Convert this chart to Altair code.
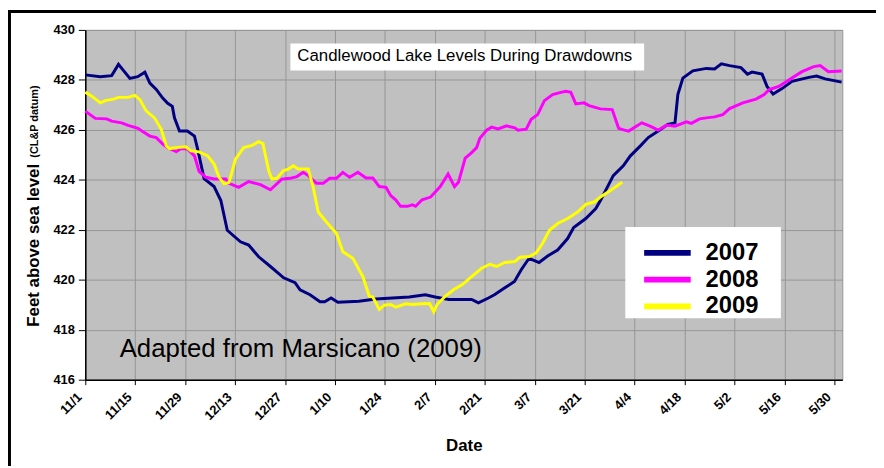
import altair as alt
import pandas as pd

FONT = "Liberation Sans"

tick_labels = ["11/1", "11/15", "11/29", "12/13", "12/27", "1/10", "1/24", "2/7",
               "2/21", "3/7", "3/21", "4/4", "4/18", "5/2", "5/16", "5/30"]
tick_days = [0, 14, 28, 42, 56, 70, 84, 98, 112, 126, 140, 154, 168, 182, 196, 210]
y_ticks = [416, 418, 420, 422, 424, 426, 428, 430]

years = ["2007", "2008", "2009"]
colors = ["#000080", "#FF00FF", "#FFFF00"]

day_2007 = [0, 4.2, 7.4, 9.3, 12.5, 14.7, 16.7, 18.1, 19.9, 21.7, 23.1, 24.4, 25.0, 26.4,
            28.6, 30.6, 31.4, 32.4, 33.3, 36.1, 38.0, 39.8, 43.5, 45.8, 48.6, 51.9, 55.6,
            58.8, 60.2, 63.0, 65.8, 67.1, 68.9, 70.8, 76.7, 81.4, 86.1, 90.8, 95.3, 98.1,
            101.9, 108.3, 110.2, 113.0, 114.7, 117.5, 120.3, 122.2, 124.4, 127.2, 129.6,
            132.4, 135.2, 136.9, 140.3, 143.1, 144.4, 148.0, 150.8, 152.8, 155.6, 157.8,
            160.6, 163.3, 165.3, 166.1, 167.5, 170.3, 174.1, 176.4, 178.3, 180.6, 183.8,
            185.6, 186.9, 189.7, 191.1, 192.8, 195.3, 198.1, 202.8, 205.0, 207.4, 212.0]
lvl_2007 = [428.20, 428.13, 428.17, 428.62, 428.06, 428.13, 428.31, 427.87, 427.62, 427.27,
            427.06, 426.94, 426.48, 425.95, 425.95, 425.75, 425.29, 424.64, 424.05, 423.73,
            423.17, 421.98, 421.52, 421.39, 420.92, 420.53, 420.08, 419.88, 419.60, 419.40,
            419.12, 419.12, 419.27, 419.10, 419.14, 419.23, 419.27, 419.31, 419.40, 419.31,
            419.21, 419.21, 419.08, 419.27, 419.40, 419.67, 419.93, 420.40, 420.86, 420.69,
            420.95, 421.19, 421.65, 422.09, 422.45, 422.85, 423.17, 424.17, 424.56, 424.96,
            425.36, 425.69, 425.95, 426.22, 426.28, 427.41, 428.07, 428.36, 428.46, 428.44,
            428.64, 428.57, 428.49, 428.23, 428.31, 428.23, 427.74, 427.43, 427.65, 427.94,
            428.10, 428.15, 428.04, 427.91]

day_2008 = [0, 2.8, 6.0, 7.4, 10.2, 12.0, 14.8, 16.2, 18.1, 19.9, 21.8, 23.1, 25.5, 26.9,
            28.7, 30.6, 31.9, 33.8, 36.1, 39.4, 40.3, 43.0, 45.8, 49.1, 51.9, 55.1, 57.4,
            59.3, 61.1, 62.5, 64.8, 66.7, 68.5, 70.4, 72.2, 74.1, 76.4, 78.7, 80.6, 82.4,
            84.3, 85.6, 87.0, 88.4, 90.3, 91.7, 92.6, 94.4, 96.8, 99.5, 101.7, 103.5, 104.6,
            106.5, 108.3, 109.7, 110.6, 112.5, 113.9, 115.7, 118.1, 120.4, 121.3, 123.6,
            125.0, 126.8, 128.7, 131.0, 133.3, 134.7, 136.1, 137.5, 139.8, 141.2, 144.4,
            147.7, 149.5, 150.9, 152.3, 156.0, 158.3, 160.6, 163.0, 165.3, 168.5, 169.9,
            172.2, 174.1, 176.4, 178.7, 180.6, 184.3, 188.0, 190.3, 191.7, 194.4, 197.2,
            200.9, 204.2, 206.0, 208.3, 212.0]
lvl_2008 = [426.75, 426.46, 426.44, 426.35, 426.28, 426.18, 426.06, 425.92, 425.75, 425.69,
            425.42, 425.29, 425.13, 425.25, 425.23, 424.96, 424.34, 424.10, 424.03, 424.03,
            423.86, 423.70, 423.93, 423.81, 423.60, 424.03, 424.06, 424.13, 424.30, 424.17,
            423.86, 423.86, 424.06, 424.06, 424.30, 424.10, 424.30, 424.07, 424.07, 423.73,
            423.70, 423.37, 423.20, 422.94, 422.94, 423.00, 422.94, 423.20, 423.31, 423.73,
            424.23, 423.73, 423.90, 424.87, 425.09, 425.29, 425.66, 425.99, 426.11, 426.04,
            426.16, 426.08, 425.99, 426.03, 426.42, 426.61, 427.17, 427.41, 427.50, 427.54,
            427.50, 427.04, 427.08, 426.97, 426.84, 426.81, 426.06, 426.00, 425.95, 426.28,
            426.15, 425.99, 426.19, 426.15, 426.32, 426.26, 426.44, 426.48, 426.52, 426.61,
            426.85, 427.08, 427.23, 427.41, 427.61, 427.74, 428.00, 428.33, 428.53, 428.57,
            428.33, 428.36]

day_2009 = [0, 1.9, 4.2, 5.6, 7.9, 9.3, 12.0, 13.9, 15.3, 17.1, 19.4, 21.3, 22.7, 23.6,
            25.9, 28.2, 29.6, 31.9, 34.3, 36.1, 37.5, 38.9, 40.3, 42.1, 44.4, 46.8, 48.6,
            49.8, 51.4, 52.3, 53.7, 55.6, 56.9, 58.3, 59.7, 62.5, 63.9, 65.3, 67.6, 70.4,
            72.2, 75.0, 77.8, 79.6, 80.6, 82.4, 83.8, 85.6, 87.0, 89.8, 91.7, 94.4, 96.5,
            97.7, 98.6, 100.9, 103.2, 105.6, 108.3, 111.1, 113.4, 115.3, 117.6, 120.4, 121.8,
            124.5, 126.4, 128.2, 130.1, 132.4, 135.2, 138.0, 140.3, 142.6, 144.4, 147.2,
            150.5]
lvl_2009 = [427.51, 427.34, 427.08, 427.17, 427.23, 427.30, 427.30, 427.38, 427.21, 426.75,
            426.48, 426.02, 425.36, 425.25, 425.29, 425.32, 425.16, 425.12, 424.96, 424.63,
            424.10, 423.84, 423.90, 424.83, 425.29, 425.38, 425.53, 425.45, 424.37, 424.03,
            424.06, 424.37, 424.43, 424.56, 424.43, 424.43, 423.70, 422.71, 422.31, 421.85,
            421.12, 420.86, 420.13, 419.34, 419.31, 418.81, 418.98, 419.01, 418.90, 419.04,
            419.01, 419.04, 419.05, 418.72, 419.01, 419.34, 419.60, 419.80, 420.13, 420.46,
            420.62, 420.53, 420.69, 420.73, 420.90, 420.93, 421.08, 421.46, 421.98, 422.25,
            422.45, 422.71, 423.02, 423.11, 423.31, 423.57, 423.90]

title_text = "Candlewood Lake Levels During Drawdowns"
credit_text = "Adapted from Marsicano (2009)"
y_title = "Feet above sea level"
y_subtitle = "(CL&P datum)"
x_title = "Date"

rows = []
for yr, ds, ls in zip(years, [day_2007, day_2008, day_2009], [lvl_2007, lvl_2008, lvl_2009]):
    for i, (d, l) in enumerate(zip(ds, ls)):
        rows.append({"year": yr, "day": d, "level": l, "order": i})
df = pd.DataFrame(rows)

label_expr = "[" + ",".join(f"'{t}'" for t in tick_labels) + "][round(datum.value/14)]"

x_enc = alt.X(
    "day:Q",
    scale=alt.Scale(domain=[0, 212.2], nice=False, zero=False),
    axis=alt.Axis(
        values=tick_days, labelExpr=label_expr, labelAngle=-45, labelAlign="right",
        labelBaseline="middle", labelFont=FONT, labelFontSize=13, labelFontWeight="bold",
        labelColor="black", labelPadding=10, labelOffset=-6, tickSize=5, tickColor="black",
        domainColor="black", domainWidth=1.5, gridColor="#969696", labelOverlap=False,
        title=x_title, titleFont=FONT, titleFontSize=17, titleFontWeight="bold",
        titleColor="black", titleY=71.7, titleBaseline="alphabetic",
    ),
)
y_enc = alt.Y(
    "level:Q",
    scale=alt.Scale(domain=[416, 430], nice=False, zero=False),
    axis=alt.Axis(
        values=y_ticks, format="d", labelFont=FONT, labelFontSize=13, labelFontWeight="bold",
        labelColor="black", labelPadding=4, tickSize=7, tickColor="black",
        domainColor="black", domainWidth=1.5, gridColor="#969696",
        title=y_title, titleFont=FONT, titleFontSize=17, titleFontWeight="bold",
        titleColor="black", titleAngle=270, titleX=-47.5, titleY=299,
        titleAlign="left", titleBaseline="alphabetic",
    ),
)

lines = alt.Chart(df).mark_line(strokeWidth=3).encode(
    x=x_enc,
    y=y_enc,
    color=alt.Color(
        "year:N",
        scale=alt.Scale(domain=years, range=colors),
        legend=alt.Legend(
            orient="none", legendX=561, legendY=211.5, title=None,
            symbolType="stroke", symbolStrokeWidth=6, symbolSize=2209,
            labelFont=FONT, labelFontSize=24, labelFontWeight="bold", labelColor="black",
            labelOffset=12, rowPadding=0, clipHeight=27, padding=0,
        ),
    ),
    order="order:Q",
)

one = pd.DataFrame({"a": [0]})

legend_box = alt.Chart(one).mark_rect(color="white").encode(
    x=alt.value(545), x2=alt.value(702), y=alt.value(199), y2=alt.value(291)
)
title_box = alt.Chart(one).mark_rect(color="white").encode(
    x=alt.value(207), x2=alt.value(564), y=alt.value(13.7), y2=alt.value(41)
)
title_mark = alt.Chart(one).mark_text(
    text=title_text, font=FONT, fontSize=17, color="black", align="center", baseline="alphabetic"
).encode(x=alt.value(383), y=alt.value(31))
credit_mark = alt.Chart(one).mark_text(
    text=credit_text, font=FONT, fontSize=26, color="black", align="left", baseline="alphabetic"
).encode(x=alt.value(34.7), y=alt.value(330.3))
sub_mark = alt.Chart(one).mark_text(
    text=y_subtitle, font=FONT, fontSize=11, fontWeight="bold", color="black",
    align="left", baseline="alphabetic", angle=270
).encode(x=alt.value(-47.5), y=alt.value(129))

border_top = alt.Chart(one).mark_rule(color="black", strokeWidth=3).encode(
    x=alt.value(-78), x2=alt.value(798), y=alt.value(-18.5)
)
border_left = alt.Chart(one).mark_rule(color="black", strokeWidth=3).encode(
    x=alt.value(-76.5), y=alt.value(-20), y2=alt.value(440)
)

chart = alt.layer(
    lines, legend_box, title_box, title_mark, credit_mark, sub_mark, border_top, border_left
).properties(
    width=764, height=353,
    autosize=alt.AutoSizeParams(type="none"),
    padding={"left": 78, "top": 20, "right": 34, "bottom": 87},
    background="white",
).configure_view(
    fill="#C0C0C0", stroke="#969696", strokeWidth=1
)

chart.save("out.html", embed_options={"renderer": "svg", "actions": False})
